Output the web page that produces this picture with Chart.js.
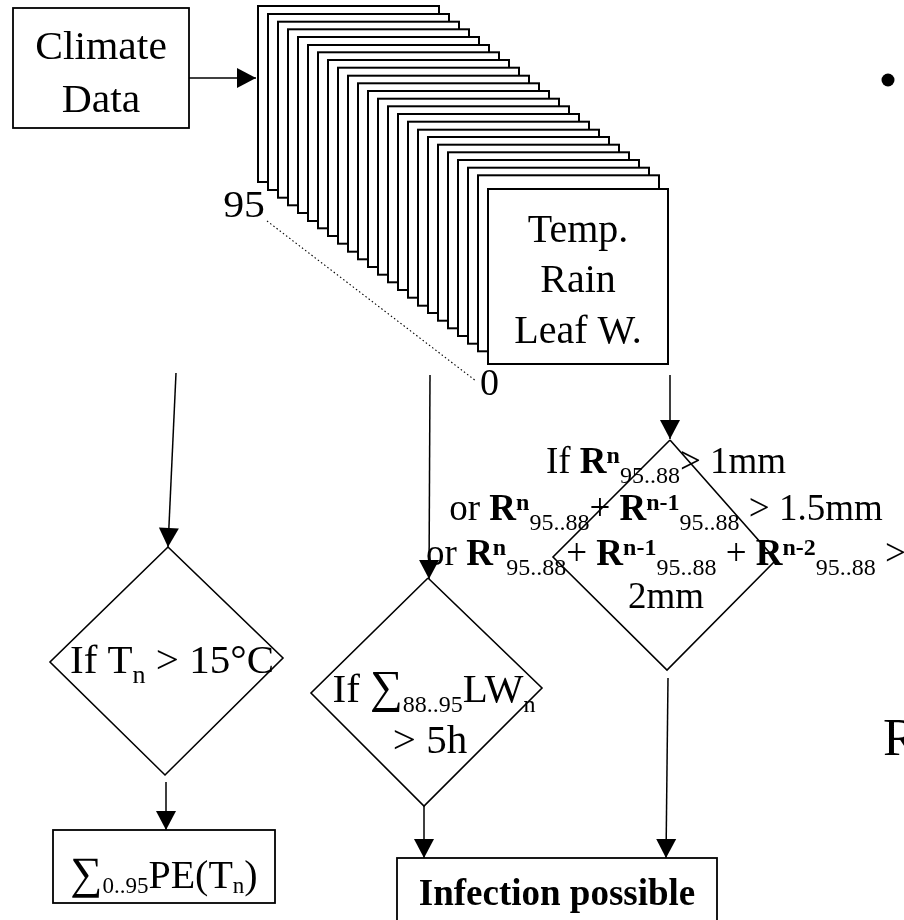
<!DOCTYPE html>
<html>
<head>
<meta charset="utf-8">
<script src="https://cdn.jsdelivr.net/npm/chart.js@4.4.0/dist/chart.umd.min.js"></script>
<style>
  html, body { margin: 0; padding: 0; background: #ffffff; }
  #c { display: block; }
</style>
</head>
<body>
<canvas id="c" width="904" height="920"></canvas>
<script>
// ---------------- content (texts) ----------------
const sourceLabel = ['Climate', 'Data'];
const recordLabel = ['Temp.', 'Rain', 'Leaf W.'];
const stackEndLabels = ['95', '0'];
const sideLetter = 'R';
// rich text runs: r = regular, b = bold, s = subscript, p = bold superscript, g = large sigma
const decisionTemp = [
  [['If T', 'r'], ['n', 's'], [' > 15°C', 'r']]
];
const decisionLeaf = [
  [['If ', 'r'], ['∑', 'g'], ['88..95', 's'], ['LW', 'r'], ['n', 's']],
  [['> 5h', 'r']]
];
const decisionRain = [
  [['If ', 'r'], ['R', 'b'], ['n', 'p'], ['95..88', 's'], ['> 1mm', 'r']],
  [['or ', 'r'], ['R', 'b'], ['n', 'p'], ['95..88', 's'], ['+ ', 'r'], ['R', 'b'], ['n-1', 'p'], ['95..88', 's'], [' > 1.5mm', 'r']],
  [['or ', 'r'], ['R', 'b'], ['n', 'p'], ['95..88', 's'], ['+ ', 'r'], ['R', 'b'], ['n-1', 'p'], ['95..88', 's'], [' + ', 'r'], ['R', 'b'], ['n-2', 'p'], ['95..88', 's'], [' >', 'r']],
  [['2mm', 'r']]
];
const sumLabel = [
  [['∑', 'g'], ['0..95', 's'], ['PE(T', 'r'], ['n', 's'], [')', 'r']]
];
const resultLabel = ['Infection possible'];

// ---------------- layout (diagram coordinates, 0..904 x 0..920) ----------------
const frameLeft = [258, 268, 278, 288, 298, 308, 318, 328, 338, 348, 358, 368, 378, 388, 398, 408, 418, 428, 438, 448, 458, 468, 478];
const frameTop  = [6, 14, 21.7, 29.3, 37, 45, 52.3, 60, 67.7, 75.7, 83.3, 91, 98.7, 106.3, 114, 121.7, 129.7, 137, 144.7, 152.3, 160, 167.7, 175.3];
const frameSize = [181, 176];
const frontBox   = [488, 189, 180, 175];
const sourceBox  = [13, 8, 176, 120];
const sumBox     = [53, 830, 222, 73];
const resultBox  = [397, 858, 320, 70];

const diamondTemp = [[168, 547], [283, 658], [165, 775], [50, 662], [168, 547]];
const diamondLeaf = [[428, 578], [542, 688], [424, 806], [311, 693], [428, 578]];
const diamondRain = [[670, 440], [776, 560], [667, 670], [553, 557], [670, 440]];

const arrows = [
  [[189, 78], [256, 78]],
  [[176, 373], [168, 547]],
  [[430, 375], [429, 579]],
  [[670, 375], [670, 439]],
  [[166, 782], [166, 830]],
  [[424, 806], [424, 858]],
  [[668, 678], [666, 858]]
];
const dottedGuide = [[267, 221], [476, 381]];
const bulletPoint = [[888, 80]];

// ---------------- drawing ----------------
const FONT = '"Liberation Serif", "Times New Roman", Times, serif';

function toXY(pts) { return pts.map(p => ({ x: p[0], y: p[1] })); }

const lineDs = (pts, extra) => Object.assign({
  data: toXY(pts), showLine: true, pointRadius: 0, borderColor: '#000',
  borderWidth: 1.5, fill: false, tension: 0
}, extra || {});

const datasets = [];
[diamondTemp, diamondLeaf, diamondRain].forEach(d => datasets.push(lineDs(d, { borderWidth: 1.6 })));
arrows.forEach(a => datasets.push(lineDs(a, { borderWidth: 1.5 })));
datasets.push(lineDs(dottedGuide, { borderWidth: 1.1, borderDash: [1.5, 2.5] }));
datasets.push({ data: toXY(bulletPoint), showLine: false, pointRadius: 6.5, pointBackgroundColor: '#000', pointBorderWidth: 0 });

function runFont(style, size, small) {
  if (style === 'b') return 'bold ' + size + 'px ' + FONT;
  if (style === 'p') return 'bold ' + small + 'px ' + FONT;
  if (style === 's') return small + 'px ' + FONT;
  if (style === 'g') return Math.round(size * 1.12) + 'px ' + FONT;
  return size + 'px ' + FONT;
}

function drawRich(ctx, runs, x, y, o) {
  const size = o.size, small = o.small, hs = o.hs || 1;
  let w = 0;
  const widths = runs.map(r => { ctx.font = runFont(r[1], size, small); const m = ctx.measureText(r[0]).width; w += m; return m; });
  let start = x;
  if (o.align === 'center') start = x - w * hs / 2;
  else if (o.align === 'right') start = x - w * hs;
  ctx.save();
  ctx.translate(start, y);
  ctx.scale(hs, 1);
  ctx.fillStyle = '#000';
  ctx.textBaseline = 'alphabetic';
  ctx.textAlign = 'left';
  let cx = 0;
  runs.forEach((r, i) => {
    ctx.font = runFont(r[1], size, small);
    let dy = 0;
    if (r[1] === 's') dy = o.subDy;
    if (r[1] === 'p') dy = o.supDy;
    ctx.fillText(r[0], cx, dy);
    cx += widths[i];
  });
  ctx.restore();
}

const flowPlugin = {
  id: 'flow',
  beforeDraw(chart) {
    const ctx = chart.ctx;
    ctx.save();
    ctx.fillStyle = '#fff';
    ctx.fillRect(0, 0, chart.width, chart.height);
    ctx.restore();
  },
  beforeDatasetsDraw(chart) {
    const ctx = chart.ctx, xs = chart.scales.x, ys = chart.scales.y;
    const rect = (l, t, w, h, lw) => {
      const x0 = xs.getPixelForValue(l), y0 = ys.getPixelForValue(t);
      const x1 = xs.getPixelForValue(l + w), y1 = ys.getPixelForValue(t + h);
      ctx.fillStyle = '#fff';
      ctx.fillRect(x0, y0, x1 - x0, y1 - y0);
      ctx.strokeStyle = '#000';
      ctx.lineWidth = lw;
      ctx.strokeRect(x0, y0, x1 - x0, y1 - y0);
    };
    ctx.save();
    rect(sourceBox[0], sourceBox[1], sourceBox[2], sourceBox[3], 1.8);
    for (let i = 0; i < frameLeft.length; i++) rect(frameLeft[i], frameTop[i], frameSize[0], frameSize[1], 2);
    rect(frontBox[0], frontBox[1], frontBox[2], frontBox[3], 2);
    rect(sumBox[0], sumBox[1], sumBox[2], sumBox[3], 1.8);
    rect(resultBox[0], resultBox[1], resultBox[2], resultBox[3], 1.8);
    ctx.restore();
  },
  afterDatasetsDraw(chart) {
    const ctx = chart.ctx, xs = chart.scales.x, ys = chart.scales.y;
    const P = (x, y) => [xs.getPixelForValue(x), ys.getPixelForValue(y)];
    ctx.save();
    // arrowheads
    ctx.fillStyle = '#000';
    arrows.forEach(a => {
      const [fx, fy] = P(a[0][0], a[0][1]);
      const [tx, ty] = P(a[1][0], a[1][1]);
      const ang = Math.atan2(ty - fy, tx - fx);
      const L = 19, H = 10;
      ctx.beginPath();
      ctx.moveTo(tx, ty);
      ctx.lineTo(tx - L * Math.cos(ang) + H * Math.sin(ang), ty - L * Math.sin(ang) - H * Math.cos(ang));
      ctx.lineTo(tx - L * Math.cos(ang) - H * Math.sin(ang), ty - L * Math.sin(ang) + H * Math.cos(ang));
      ctx.closePath();
      ctx.fill();
    });
    const T = (runs, x, y, o) => { const p = P(x, y); drawRich(ctx, runs, p[0], p[1], o); };
    const plain = s => [[s, 'r']];
    // source box
    T(plain(sourceLabel[0]), 101, 59, { size: 40, small: 24, align: 'center', hs: 1.04 });
    T(plain(sourceLabel[1]), 101, 112, { size: 40, small: 24, align: 'center', hs: 1.04 });
    // record box
    T(plain(recordLabel[0]), 578, 242, { size: 40, small: 24, align: 'center' });
    T(plain(recordLabel[1]), 578, 292, { size: 40, small: 24, align: 'center' });
    T(plain(recordLabel[2]), 578, 343, { size: 40, small: 24, align: 'center' });
    // stack ends
    T(plain(stackEndLabels[0]), 265, 217, { size: 38, small: 24, align: 'right', hs: 1.1 });
    T(plain(stackEndLabels[1]), 480, 395, { size: 38, small: 24, align: 'left' });
    // decisions
    T(decisionTemp[0], 172, 673, { size: 41, small: 26, subDy: 10, supDy: -10, align: 'center' });
    T(decisionLeaf[0], 434, 702, { size: 41, small: 24, subDy: 10, supDy: -10, align: 'center' });
    T(decisionLeaf[1], 430, 753, { size: 41, small: 24, subDy: 10, supDy: -10, align: 'center' });
    const rainBase = [473, 520, 565, 608];
    decisionRain.forEach((ln, i) => T(ln, 666, rainBase[i], { size: 37, small: 24, subDy: 10, supDy: -10, align: 'center' }));
    // result boxes
    T(sumLabel[0], 164, 888, { size: 40, small: 23, subDy: 5, supDy: -10, align: 'center' });
    T([[resultLabel[0], 'b']], 557, 905, { size: 37, small: 24, align: 'center' });
    // clipped side letter
    T(plain(sideLetter), 883, 755, { size: 53, small: 24, align: 'left' });
    ctx.restore();
  }
};

new Chart(document.getElementById('c'), {
  type: 'scatter',
  data: { datasets },
  options: {
    responsive: false,
    animation: false,
    devicePixelRatio: 1,
    layout: { padding: 0, autoPadding: false },
    events: [],
    scales: {
      x: { type: 'linear', min: 0, max: 904, display: false },
      y: { type: 'linear', min: 0, max: 920, reverse: true, display: false }
    },
    plugins: { legend: { display: false }, tooltip: { enabled: false } }
  },
  plugins: [flowPlugin]
});
</script>
</body>
</html>
